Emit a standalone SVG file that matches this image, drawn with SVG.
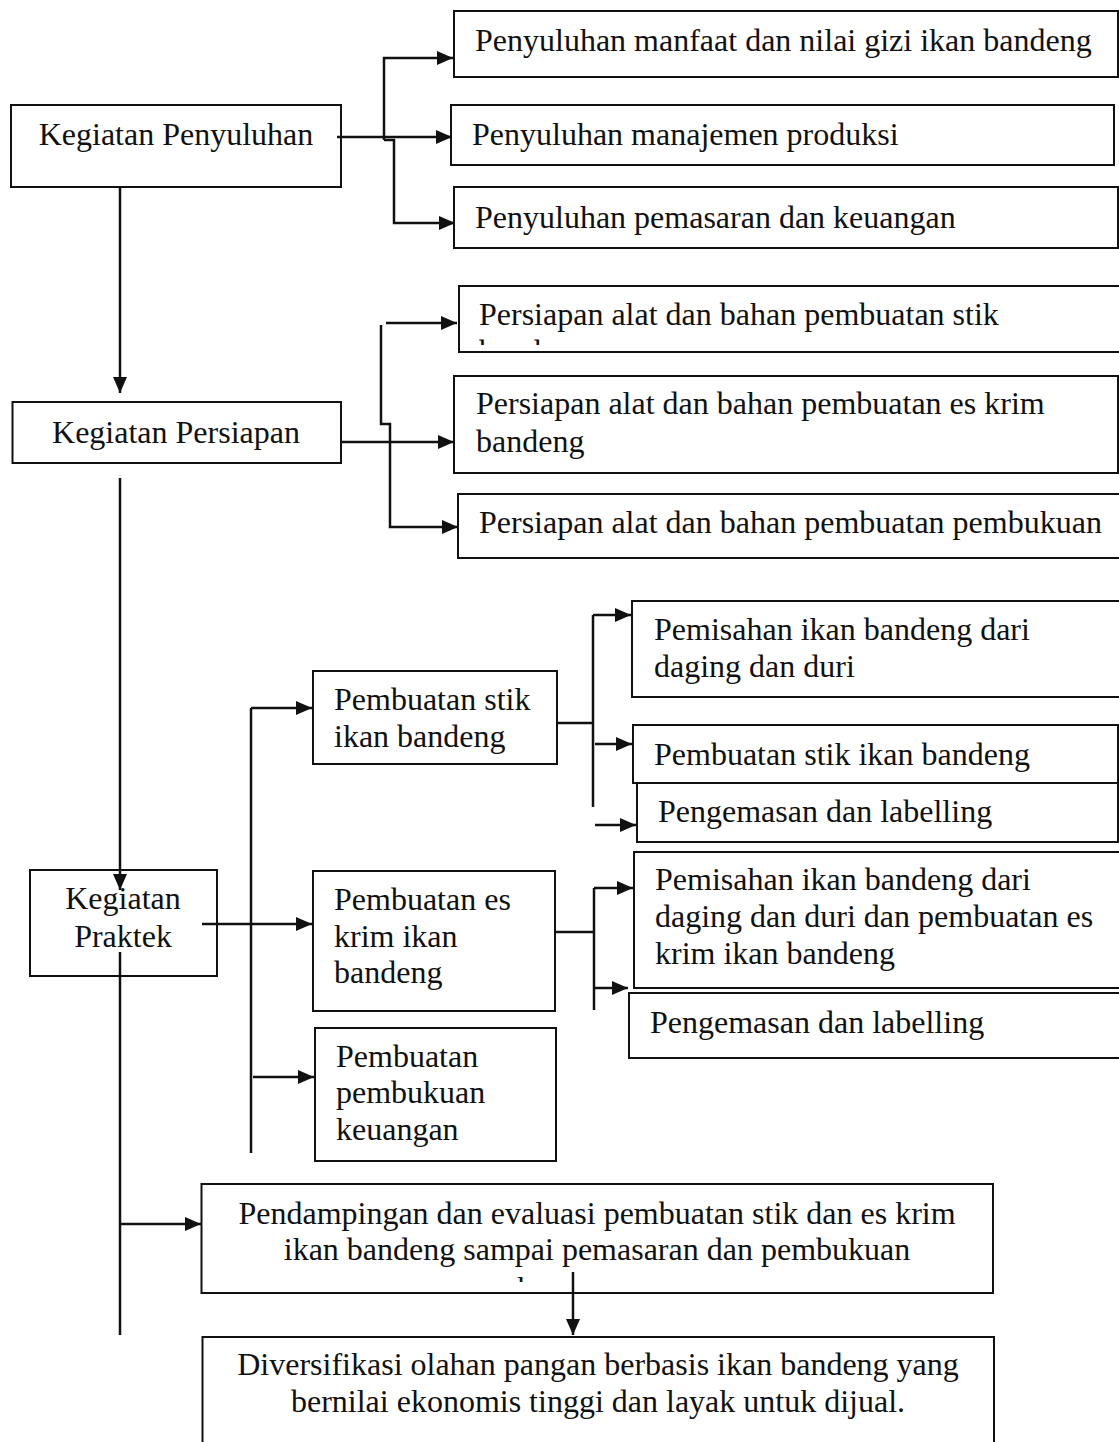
<svg xmlns="http://www.w3.org/2000/svg" width="1119" height="1442" viewBox="0 0 1119 1442">
<style>
  .box { fill: #fff; stroke: #111; stroke-width: 2; }
  .t { font-family: "Liberation Serif", "Times New Roman", serif; font-size: 32px; fill: #111; }
  .c { text-anchor: middle; }
  .ln { fill: none; stroke: #111; stroke-width: 2.5; }
  .ar { fill: none; stroke: #111; stroke-width: 2.5; marker-end: url(#ah); }
</style>
<defs>
  <marker id="ah" markerUnits="userSpaceOnUse" markerWidth="16" markerHeight="14" refX="16" refY="7" orient="auto">
    <path d="M0,0 L16,7 L0,14 z" fill="#111"/>
  </marker>
  <clipPath id="clipP1"><rect x="459" y="286" width="660" height="59"/></clipPath>
  <clipPath id="clipPd"><rect x="202" y="1184" width="790" height="98"/></clipPath>
</defs>
<rect width="1119" height="1442" fill="#fff"/>

<g id="n-penyuluhan">
  <rect class="box" x="11" y="105" width="330" height="82"/>
  <text class="t c" x="176" y="145">Kegiatan Penyuluhan</text>
</g>
<g id="n-py1">
  <rect class="box" x="454" y="11" width="664" height="66"/>
  <text class="t" x="475" y="51">Penyuluhan manfaat dan nilai gizi ikan bandeng</text>
</g>
<g id="n-py2">
  <rect class="box" x="451" y="105" width="663" height="60"/>
  <text class="t" x="472" y="145">Penyuluhan manajemen produksi</text>
</g>
<g id="n-py3">
  <rect class="box" x="454" y="187" width="664" height="61"/>
  <text class="t" x="475" y="228">Penyuluhan pemasaran dan keuangan</text>
</g>

<g id="n-persiapan">
  <rect class="box" x="12.5" y="402" width="328.5" height="61"/>
  <text class="t c" x="176" y="443">Kegiatan Persiapan</text>
</g>
<g id="n-ps1">
  <rect class="box" x="459" y="286" width="670" height="66"/>
  <text class="t" x="479" y="325">Persiapan alat dan bahan pembuatan stik</text>
  <text class="t" x="479" y="362" clip-path="url(#clipP1)">bandeng</text>
</g>
<g id="n-ps2">
  <rect class="box" x="454" y="376" width="664" height="97"/>
  <text class="t" x="476" y="414">Persiapan alat dan bahan pembuatan es krim</text>
  <text class="t" x="476" y="452">bandeng</text>
</g>
<g id="n-ps3">
  <rect class="box" x="458" y="494" width="670" height="64"/>
  <text class="t" x="479" y="533">Persiapan alat dan bahan pembuatan pembukuan</text>
</g>

<g id="n-stik">
  <rect class="box" x="313" y="671" width="244" height="93"/>
  <text class="t" x="334" y="710">Pembuatan stik</text>
  <text class="t" x="334" y="747">ikan bandeng</text>
</g>
<g id="n-s1">
  <rect class="box" x="632" y="601" width="495" height="96"/>
  <text class="t" x="654" y="640">Pemisahan ikan bandeng dari</text>
  <text class="t" x="654" y="677">daging dan duri</text>
</g>
<g id="n-s2">
  <rect class="box" x="633" y="725" width="485" height="58"/>
  <text class="t" x="654" y="765">Pembuatan stik ikan bandeng</text>
</g>
<g id="n-s3">
  <rect class="box" x="637" y="783" width="481" height="59"/>
  <text class="t" x="658" y="822">Pengemasan dan labelling</text>
</g>

<g id="n-praktek">
  <rect class="box" x="30" y="870" width="187" height="106"/>
  <text class="t c" x="123" y="909">Kegiatan</text>
  <text class="t c" x="123" y="947">Praktek</text>
</g>
<g id="n-es">
  <rect class="box" x="313" y="871" width="242" height="140"/>
  <text class="t" x="334" y="910">Pembuatan es</text>
  <text class="t" x="334" y="947">krim ikan</text>
  <text class="t" x="334" y="983">bandeng</text>
</g>
<g id="n-e1">
  <rect class="box" x="634" y="852" width="493" height="136"/>
  <text class="t" x="655" y="890">Pemisahan ikan bandeng dari</text>
  <text class="t" x="655" y="927">daging dan duri dan pembuatan es</text>
  <text class="t" x="655" y="964">krim ikan bandeng</text>
</g>
<g id="n-e2">
  <rect class="box" x="629" y="993" width="498" height="65"/>
  <text class="t" x="650" y="1033">Pengemasan dan labelling</text>
</g>
<g id="n-buku">
  <rect class="box" x="315" y="1028" width="241" height="133"/>
  <text class="t" x="336" y="1067">Pembuatan</text>
  <text class="t" x="336" y="1103">pembukuan</text>
  <text class="t" x="336" y="1140">keuangan</text>
</g>

<g id="n-pendampingan">
  <rect class="box" x="201.5" y="1184" width="791.5" height="109"/>
  <text class="t c" x="597" y="1224">Pendampingan dan evaluasi pembuatan stik dan es krim</text>
  <text class="t c" x="597" y="1260">ikan bandeng sampai pemasaran dan pembukuan</text>
  <text class="t" x="517" y="1299" clip-path="url(#clipPd)">keuangan</text>
</g>
<g id="n-diversifikasi">
  <rect class="box" x="202.5" y="1337" width="791.5" height="130"/>
  <text class="t c" x="598" y="1375">Diversifikasi olahan pangan berbasis ikan bandeng yang</text>
  <text class="t c" x="598" y="1412">bernilai ekonomis tinggi dan layak untuk dijual.</text>
</g>

<g id="connectors">
  <path class="ar" d="M120,187 L120,393"/>
  <path class="ar" d="M337,137 L452,137"/>
  <path class="ar" d="M384,140 L384,58 L453,58"/>
  <path class="ar" d="M384,140 L394,140 L394,223 L455,223"/>

  <path class="ar" d="M120,478 L120,890"/>
  <path class="ar" d="M341,442 L454,442"/>
  <path class="ar" d="M386,323 L457,323"/>
  <path class="ar" d="M381,325 L381,424 L390,424 L390,527 L458,527"/>

  <path class="ln" d="M120,952 L120,1335"/>
  <path class="ar" d="M202,924 L312,924"/>
  <path class="ln" d="M251,708 L251,1153"/>
  <path class="ar" d="M251,708 L312,708"/>
  <path class="ar" d="M253,1077 L314,1077"/>

  <path class="ln" d="M557,723 L593,723"/>
  <path class="ln" d="M593,615 L593,807"/>
  <path class="ar" d="M593,615 L631,615"/>
  <path class="ar" d="M595,744 L632,744"/>
  <path class="ar" d="M595,825 L636,825"/>

  <path class="ln" d="M555,932 L594,932"/>
  <path class="ln" d="M594,888 L594,1010"/>
  <path class="ar" d="M594,888 L633,888"/>
  <path class="ar" d="M594,988 L628,988"/>

  <path class="ar" d="M120,1224 L201,1224"/>
  <path class="ar" d="M573,1272 L573,1335"/>
</g>
</svg>
